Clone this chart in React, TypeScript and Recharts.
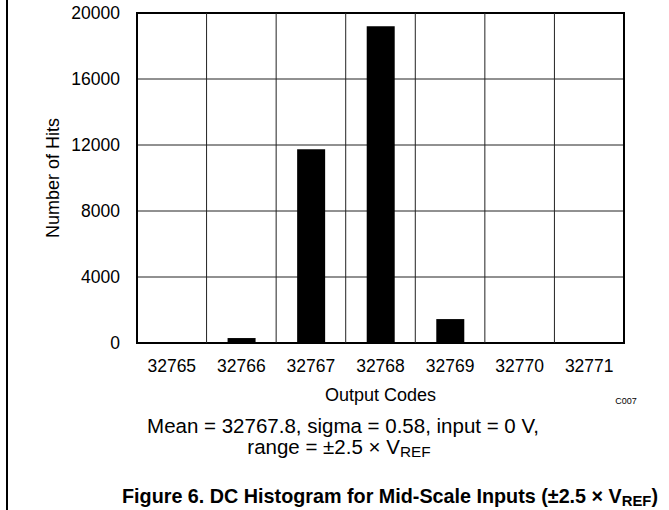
import React from "react";
import { BarChart, Bar, XAxis, YAxis, CartesianGrid, ReferenceLine, ReferenceArea } from "recharts";

const codes = [32765, 32766, 32767, 32768, 32769, 32770, 32771];
const hits = [0, 300, 11750, 19200, 1450, 0, 0];
const hitTicks = [0, 4000, 8000, 12000, 16000, 20000];
const codeEdges = [32765.5, 32766.5, 32767.5, 32768.5, 32769.5, 32770.5];

const data = codes.map((code, i) => ({ code, hits: hits[i] }));

const font = '"Liberation Sans", Arial, Helvetica, sans-serif';

const Sub = ({ children }: { children: React.ReactNode }) => (
  <span style={{ fontSize: "0.75em", position: "relative", top: 3 }}>{children}</span>
);

export default function App() {
  return (
    <div style={{ position: "absolute", left: 0, top: 0, width: 669, height: 510, background: "#fff", fontFamily: font }}>
      <div style={{ position: "absolute", left: 6, top: 0, width: 2, height: 510, background: "#000" }} />
      <BarChart
        width={669}
        height={510}
        data={data}
        margin={{ top: 13, right: 45, left: 17, bottom: 107 }}
        style={{ position: "absolute", left: 0, top: 0 }}
      >
        <CartesianGrid vertical={false} stroke="#222" strokeWidth={1} />
        <XAxis
          dataKey="code"
          type="number"
          domain={[32764.5, 32771.5]}
          ticks={codes}
          allowDataOverflow
          height={60}
          axisLine={false}
          tickLine={false}
          tickSize={0}
          tickMargin={17}
          tick={{ fill: "#000", fontSize: 17.5, fontFamily: font }}
          label={{
            content: ({ viewBox }: any) => (
              <text
                x={viewBox.x + viewBox.width / 2}
                y={viewBox.y + 52}
                textAnchor="middle"
                dominantBaseline="central"
                fontSize={18}
                fontFamily={font}
                fill="#000"
              >
                Output Codes
              </text>
            ),
          }}
        />
        <YAxis
          type="number"
          domain={[0, 20000]}
          ticks={hitTicks}
          width={120}
          axisLine={false}
          tickLine={false}
          tickSize={0}
          tickMargin={17}
          tick={{ fill: "#000", fontSize: 17.5, fontFamily: font }}
          label={{
            content: ({ viewBox }: any) => {
              const cx = viewBox.x + 36;
              const cy = viewBox.y + viewBox.height / 2;
              return (
                <text
                  x={cx}
                  y={cy}
                  transform={`rotate(-90 ${cx} ${cy})`}
                  textAnchor="middle"
                  dominantBaseline="central"
                  fontSize={18}
                  fontFamily={font}
                  fill="#000"
                >
                  Number of Hits
                </text>
              );
            },
          }}
        />
        {codeEdges.map((x) => (
          <ReferenceLine key={x} x={x} stroke="#222" strokeWidth={1} />
        ))}
        <Bar dataKey="hits" fill="#000" barSize={28} isAnimationActive={false} />
        <ReferenceArea x1={32764.5} x2={32771.5} y1={0} y2={20000} fill="none" fillOpacity={0} stroke="#000" strokeWidth={2} />
      </BarChart>
      <div style={{ position: "absolute", left: 596, top: 397, width: 60, textAlign: "center", fontSize: 9, lineHeight: "9px" }}>
        C007
      </div>
      <div style={{ position: "absolute", left: 0, top: 416, width: 686, textAlign: "center", fontSize: 20.5, lineHeight: "20px" }}>
        Mean = 32767.8, sigma = 0.58, input = 0 V,
      </div>
      <div style={{ position: "absolute", left: 0, top: 437, width: 678, textAlign: "center", fontSize: 20.5, lineHeight: "20px" }}>
        range = ±2.5 × V<Sub>REF</Sub>
      </div>
      <div style={{ position: "absolute", left: 0, top: 486, width: 780, textAlign: "center", fontSize: 19.75, lineHeight: "20px", fontWeight: "bold" }}>
        Figure 6. DC Histogram for Mid-Scale Inputs (±2.5 × V<Sub>REF</Sub>)
      </div>
    </div>
  );
}
